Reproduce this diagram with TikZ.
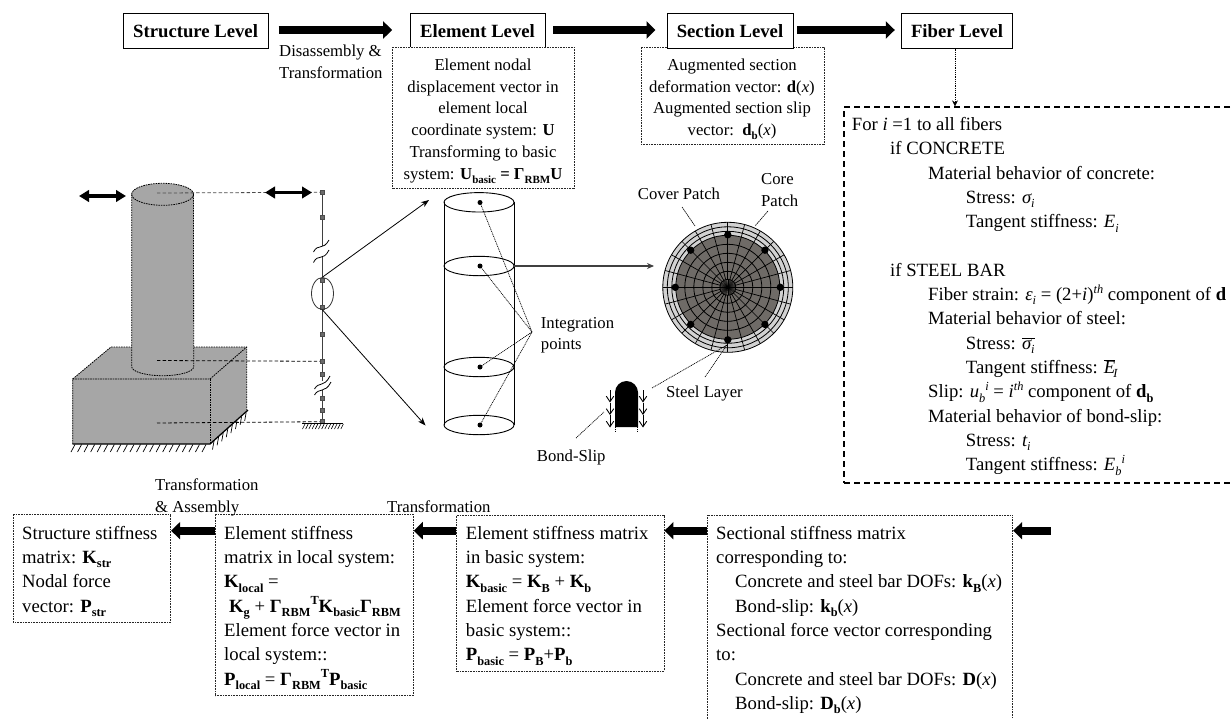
\documentclass[tikz,border=0pt]{standalone}
\usepackage{fontspec}
\setmainfont{Liberation Serif}
\usetikzlibrary{arrows.meta,calc,shapes.geometric}
\newcommand{\lo}[1]{\raisebox{-0.24em}{\scalebox{0.66}{#1}}}
\newcommand{\hi}[1]{\raisebox{0.40em}{\scalebox{0.66}{#1}}}
\newcommand{\fl}{\rule{0pt}{14pt}}
\newcommand{\bfi}[1]{\textbf{#1}}
\newcommand{\ind}[1]{\hspace*{#1pt}}
\definecolor{pier}{HTML}{A6A6A6}
\definecolor{coredark}{HTML}{6F6B67}
\definecolor{coverlight}{HTML}{D2D2D2}
\definecolor{nodegray}{HTML}{6A6A6A}
\tikzset{
  big/.style={font=\fontsize{18.7}{24.3}\selectfont},
  small/.style={font=\fontsize{16.7}{21.8}\selectfont},
  levelbox/.style={draw=black,line width=1pt,fill=white,inner sep=0pt,font=\fontsize{18.7}{24.3}\selectfont\bfseries},
  dotbox/.style={draw=black!85,fill=white,line width=.8pt,dash pattern=on .9pt off .7pt,inner sep=0pt,minimum width=0pt},
  bodytext/.style={big,anchor=north west,inner sep=0pt,align=left},
  smalltext/.style={small,anchor=base west,inner sep=0pt},
  fat/.style={line width=8pt,-{Triangle[length=9pt,width=17pt]}},
  fatl/.style={line width=8pt,-{Triangle[length=9pt,width=17pt]}},
  thinarrow/.style={line width=.8pt,-{Stealth[length=8pt,width=6pt]}},
  leader/.style={line width=.7pt,dash pattern=on 1pt off .8pt},
  blockedge/.style={line width=.8pt,dash pattern=on 1.6pt off .9pt},
  trussnode/.style={draw=black!70,fill=nodegray,rectangle,minimum size=4pt,inner sep=0pt,line width=.5pt},
  dashlink/.style={line width=.8pt,dash pattern=on 3.4pt off 2.2pt},
  twoway/.style={line width=3.4pt,{Triangle[length=10pt,width=11.5pt]}-{Triangle[length=10pt,width=11.5pt]}},
  slipdown/.style={line width=.9pt,-{Straight Barb[length=5.5pt,width=7.5pt]}},
  wave/.style={line width=.8pt},
}
\begin{document}
\begin{tikzpicture}[x=1pt,y=-1pt]
\clip (0,0) rectangle (1232,718);
\useasboundingbox (0,0) rectangle (1232,718);
\fill[white] (0,0) rectangle (1232,718);

% ---------- top row
\node[levelbox,minimum width=145pt,minimum height=34.5pt] (st) at (195.6,30.8) {Structure Level};
\node[levelbox,minimum width=135pt,minimum height=34.5pt] (el) at (477.5,30.8) {Element Level};
\node[levelbox,minimum width=111.4pt,minimum height=34.5pt] (fi) at (957,30.8) {Fiber Level};

\node[dotbox,minimum width=181.5pt,minimum height=141pt] (eld) at (483.3,117.5) {};
\node[small,anchor=north,inner sep=0pt,align=center] (eldt) at (483,56) {\fl Element nodal\\
displacement vector in\\
element local\\
coordinate system: \bfi{U}\\
Transforming to basic\\
system: \bfi{U\lo{basic} = Γ\lo{RBM}U}};

\node[dotbox,minimum width=183pt,minimum height=97pt] (sed) at (732.5,95.5) {};
\node[levelbox,minimum width=126pt,minimum height=34.5pt] (se) at (730,30.8) {Section Level};
\node[small,anchor=north,inner sep=0pt,align=center] (sedt) at (732,56) {\fl Augmented section\\
deformation vector: \bfi{d}(\textit{x})\\
Augmented section slip\\
vector:\ \ \bfi{d\lo{b}}(\textit{x})};

\draw[fat] ([xshift=10pt,yshift=.8pt]st.east) -- ([yshift=.8pt]eld.west |- st.east);
\draw[fat] ([xshift=7.5pt,yshift=.8pt]el.east) -- ([xshift=-11pt,yshift=.8pt]se.west);
\draw[fat] ([xshift=3.5pt,yshift=.8pt]se.east) -- ([xshift=-6pt,yshift=.8pt]fi.west);

\node[smalltext] (dis) at (279,56) {Disassembly \&};
\node[smalltext] (tra) at (279,78) {Transformation};

% ---------- fibre box
\node[draw=black,line width=1.2pt,dash pattern=on 6pt off 4pt,inner sep=0pt,minimum width=400pt,minimum height=376pt] (fib) at (1044,295) {};
\draw[leader,-{Stealth[length=6pt,width=6pt]}] ([xshift=-2pt]fi.south) -- ([xshift=-2pt]fi.south |- fib.north);
\node[bodytext] (fibt) at (851.7,116.2) {\fl For \textit{i} =1 to all fibers\\
\ind{38.3}if CONCRETE\\
\ind{76.3}Material behavior of concrete:\\
\ind{114}Stress: \textit{σ\lo{i}}\\
\ind{114}Tangent stiffness: \textit{E\lo{i}}\\
\mbox{}\\
\ind{38.3}if STEEL BAR\\
\ind{76.3}Fiber strain: \textit{ε\lo{i}} = (2+\textit{i})\hi{\textit{th}} component of \bfi{d}\\
\ind{76.3}Material behavior of steel:\\
\ind{114}Stress: $\overline{\hbox{\textit{σ\lo{i}}}}$\\
\ind{114}Tangent stiffness: $\overline{\hbox{\textit{E}}}$\kern-2pt\textit{\lo{I}}\\
\ind{76.3}Slip: \textit{u\lo{b}}\hi{\textit{i}} = \textit{i}\hi{\textit{th}} component of \bfi{d\lo{b}}\\
\ind{76.3}Material behavior of bond-slip:\\
\ind{114}Stress: \textit{t\lo{i}}\\
\ind{114}Tangent stiffness: \textit{E\lo{b}}\hi{\textit{i}}};

% ---------- pier
\path[fill=pier] (72.7,379) -- (111,347) -- (246.7,347) -- (246.7,410) -- (210,444) -- (72.7,444) -- cycle;
\draw[blockedge] (72.7,379) -- (111,347) -- (246.7,347) -- (246.7,410);
\draw[blockedge] (72.7,444) -- (72.7,379) -- (210,379) -- (246.7,347);
\draw[blockedge] (210,379) -- (210,444);
\path[fill=pier] (131.7,194.3) -- (131.7,366.7) arc[start angle=180,end angle=360,x radius=31,y radius=-9] -- (193.5,194.3) -- cycle;
\path[fill=pier] (162.6,194.3) ellipse[x radius=31,y radius=11];
\draw[blockedge] (131.7,194.3) -- (131.7,366.7) arc[start angle=180,end angle=360,x radius=31,y radius=-9] -- (193.5,194.3);
\draw[blockedge] (162.6,194.3) ellipse[x radius=31,y radius=11];
\draw[line width=1.3pt] (72.7,444) -- (210,444) -- (248,410);
\foreach \k in {0,...,20} \draw[line width=.7pt] ({75+6.55*\k},444.5) -- ++(-4,7.5);
\foreach \k in {0,...,7} \draw[line width=.7pt] ({214+\k*4.6},{441-\k*4.1}) -- ++(-1.5,8.5);
\draw[twoway] (79,196) -- (126,196);

% ---------- truss
\coordinate (ct) at (157,193);
\coordinate (cm) at (157,360.5);
\coordinate (cb) at (157,423);
\draw[line width=1pt,black!75] (322,192) -- (322,246) (322,257) -- (322,381) (322,390) -- (322,422);
\foreach \n/\y in {a/192.3,b/217.3,c/280.3,d/307.3,e/334.3,f/361.3,g/374,h/398.3,i/410,j/421.7}
  \node[trussnode] (t\n) at (322,\y) {};
\draw[dashlink,black!70] (ct) -- (ta);
\draw[dashlink] (cm) -- (tf);
\draw[dashlink] (cb) -- (tj);
\draw[twoway] (265,192.5) -- (312,192.5);
\draw[wave] (313.5,252) .. controls (318,243) and (323,251) .. (329,240);
\draw[wave] (313.5,262.5) .. controls (318,253) and (323,262) .. (329,250);
\draw[wave] (314.5,389) .. controls (319,381) and (324,388) .. (330,376);
\draw[wave] (314.5,395) .. controls (319,387) and (325,394) .. (331,382);
\draw[line width=.9pt] (302,423.5) -- (343,423.5);
\foreach \k in {0,...,12} \draw[line width=.6pt] ({305+3.2*\k},424) -- ++(-2.5,5);
\node[draw=black!80,line width=.8pt,ellipse,inner sep=0pt,minimum width=22pt,minimum height=32pt] (zoomel) at (322.5,293.5) {};
\coordinate (cyltop) at (429,200);
\coordinate (cylbot) at (425.5,425.5);
\draw[thinarrow] (zoomel.north) -- (cyltop);
\draw[thinarrow] (zoomel.south) -- (cylbot);

% ---------- tall cylinder
\draw[line width=.9pt] (444,202.3) -- (444,425) (514,202.3) -- (514,425);
\foreach \y in {202.3,266,367,425}
  \draw[line width=.9pt] (479,\y) ellipse[x radius=35,y radius=9.7];
\foreach \y in {202.5,266,367,425}
  \fill[black] (480,\y) circle[radius=2.5];
\coordinate (q1) at (480,202.5);
\coordinate (q2) at (480,266);
\coordinate (q3) at (480,367);
\coordinate (q4) at (480,425);
\coordinate (ip) at (532,332);
\draw[leader] (q1) -- (ip) (q2) -- (ip) (q3) -- (ip) (q4) -- (ip);
\node[smalltext] (ipa) at (540.7,328) {Integration};
\node[smalltext] (ipb) at (540.7,349) {points};

% ---------- section
\coordinate (sc) at (727.8,287.3);
\fill[coverlight] (sc) circle[radius=65];
\fill[coredark] (sc) circle[radius=52];
\foreach \r in {65,60.5,56,52,43,34,25,16,8}
  \draw[line width=.8pt] (sc) circle[radius=\r];
\foreach \a in {0,15,...,345}
  \draw[line width=.7pt] ($(sc)+(\a:8)$) -- ($(sc)+(\a:65)$);
\foreach \a in {0,7.5,...,352.5}
  \draw[line width=.35pt] (sc) -- ($(sc)+(\a:8)$);
\foreach \a in {0,45,...,315}
  \fill[black] ($(sc)+(\a:52.5)$) circle[radius=3.7];
\draw[line width=1.1pt,black!75,-{Stealth[length=7pt,width=6pt]}] (514,266) -- (654,266);
\node[smalltext,anchor=base] (cov) at (679,199) {Cover Patch};
\node[smalltext] (cora) at (761,184) {Core};
\node[smalltext] (corb) at (761,206) {Patch};
\draw[line width=.6pt,dash pattern=on 1.6pt off .6pt] (682,207) -- (695,226);
\draw[line width=.6pt,dash pattern=on 1.6pt off .6pt] (768,211) -- (755,226);
\coordinate (barb) at (727,345);
\draw[leader] (705,377) -- (barb) (652,388) -- (barb);
\node[smalltext] (stl) at (666,397) {Steel Layer};

% ---------- bond slip
\fill[black] (615,427) -- (615,392.5) arc[start angle=180,end angle=360,x radius=11.5,y radius=11.5] -- (638,427) -- cycle;
\draw[leader] (615.5,427) -- (615.5,432) (637.5,427) -- (637.5,432);
\foreach \x in {610,643} {
  \draw[slipdown] (\x,390) -- (\x,402.5);
  \draw[slipdown] (\x,402.5) -- (\x,415);
  \draw[slipdown] (\x,415) -- (\x,427.5);
}
\draw[leader] (576,438) -- (604,412);
\node[smalltext] (bs) at (536.7,461.7) {Bond-Slip};

% ---------- bottom row
\node[dotbox,minimum width=157.4pt,minimum height=108pt] (b1) at (92,568) {};
\node[dotbox,minimum width=198.3pt,minimum height=181.7pt] (b2) at (314.2,604.85) {};
\node[dotbox,minimum width=207.3pt,minimum height=156pt] (b3) at (560.4,593) {};
\node[dotbox,minimum width=305.7pt,minimum height=230pt] (b4) at (859.9,630) {};

\node[bodytext] (b1t) at (22,525) {\fl Structure stiffness\\
matrix: \bfi{K\lo{str}}\\
Nodal force\\
vector: \bfi{P\lo{str}}};
\node[bodytext] (b2t) at (224,525) {\fl Element stiffness\\
matrix in local system:\\
\bfi{K\lo{local}} =\\
\ind{5}\bfi{K\lo{g}} + \bfi{Γ\lo{RBM}\hi{T}K\lo{basic}Γ\lo{RBM}}\\
Element force vector in\\
local system::\\
\bfi{P\lo{local}} = \bfi{Γ\lo{RBM}\hi{T}P\lo{basic}}};
\node[bodytext] (b3t) at (465.7,525) {\fl Element stiffness matrix\\
in basic system:\\
\bfi{K\lo{basic}} = \bfi{K\lo{B}} + \bfi{K\lo{b}}\\
Element force vector in\\
basic system::\\
\bfi{P\lo{basic}} = \bfi{P\lo{B}}+\bfi{P\lo{b}}};
\node[bodytext] (b4t) at (716,525) {\fl Sectional stiffness matrix\\
corresponding to:\\
\ind{19}Concrete and steel bar DOFs: \bfi{k\lo{B}}(\textit{x})\\
\ind{19}Bond-slip: \bfi{k\lo{b}}(\textit{x})\\
Sectional force vector corresponding\\
to:\\
\ind{19}Concrete and steel bar DOFs: \bfi{D}(\textit{x})\\
\ind{19}Bond-slip: \bfi{D\lo{b}}(\textit{x})};

\coordinate (ly) at (0,530.7);
\coordinate (in4) at (1050.7,530.7);
\draw[fatl] (in4) -- (in4 -| b4.east);
\draw[fatl] (b4.west |- ly) -- (b3.east |- ly);
\draw[fatl] (b3.west |- ly) -- (b2.east |- ly);
\draw[fatl] (b2.west |- ly) -- (b1.east |- ly);

\node[smalltext] (lta) at (155,490) {Transformation};
\node[smalltext] (ltb) at (155,512) {\& Assembly};
\node[smalltext] (ltc) at (387,512) {Transformation};
\end{tikzpicture}
\end{document}
